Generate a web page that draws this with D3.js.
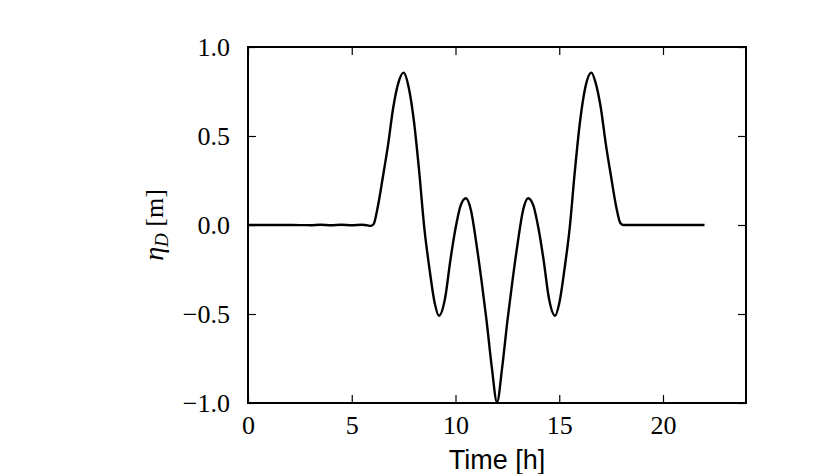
<!DOCTYPE html>
<html>
<head>
<meta charset="utf-8">
<script src="https://cdn.jsdelivr.net/npm/d3@7/dist/d3.min.js"></script>
<style>
  body { margin: 0; background: #fff; }
  svg { display: block; }
</style>
</head>
<body>
<div id="chart"></div>
<script>
// ---- data ----
const timeHours = [0, 1, 2, 3, 3.5, 4, 4.5, 5, 5.5, 5.75, 5.9, 6.05,
  6.25, 6.5, 6.75, 7.0, 7.25, 7.5, 7.75, 8.0, 8.25, 8.5, 8.75, 9.0, 9.2, 9.5, 9.75,
  10.0, 10.25, 10.5, 10.75, 11.0, 11.25, 11.5, 11.75, 12.0,
  12.25, 12.5, 12.75, 13.0, 13.25, 13.5, 13.75, 14.0, 14.25, 14.5, 14.8, 15.0, 15.25,
  15.5, 15.75, 16.0, 16.25, 16.55, 16.75, 17.0, 17.25, 17.5, 17.75, 17.95, 18.1,
  19, 20, 21, 22];
const etaD = [0, 0, 0, -0.001, 0.001, -0.001, 0.001, -0.001, 0.001, -0.002, -0.005, 0.004,
  0.10, 0.27, 0.45, 0.66, 0.80, 0.856, 0.77, 0.58, 0.30, -0.02, -0.25, -0.44, -0.51, -0.41, -0.20,
  -0.02, 0.11, 0.15, 0.08, -0.10, -0.31, -0.54, -0.80, -0.995,
  -0.80, -0.54, -0.31, -0.10, 0.08, 0.15, 0.11, -0.02, -0.20, -0.41, -0.51, -0.44, -0.25,
  -0.02, 0.30, 0.58, 0.77, 0.856, 0.80, 0.66, 0.45, 0.27, 0.10, 0.01, 0,
  0, 0, 0, 0];
const xTicks = [0, 5, 10, 15, 20];
const yTicks = [-1.0, -0.5, 0.0, 0.5, 1.0];
const xLabel = "Time [h]";

// ---- layout ----
const W = 830, H = 474;
const m = { left: 248, right: 84, top: 47, bottom: 71 };
const iw = W - m.left - m.right, ih = H - m.top - m.bottom;

const svg = d3.select("#chart").append("svg").attr("width", W).attr("height", H);
const g = svg.append("g").attr("transform", `translate(${m.left},${m.top})`);

const x = d3.scaleLinear().domain([0, 24]).range([0, iw]);
const y = d3.scaleLinear().domain([-1, 1]).range([ih, 0]);

const serif = "'Liberation Serif', 'DejaVu Serif', serif";
const fmtY = d => (d < 0 ? "\u2212" : "") + Math.abs(d).toFixed(1);
const tickLen = 8;

// axes (inward ticks)
const axB = g.append("g").attr("transform", `translate(0,${ih})`)
  .call(d3.axisBottom(x).tickValues(xTicks).tickSize(-tickLen).tickPadding(tickLen + 7).tickFormat(d3.format("d")));
const axT = g.append("g")
  .call(d3.axisTop(x).tickValues(xTicks).tickSize(-tickLen).tickFormat(""));
const axL = g.append("g")
  .call(d3.axisLeft(y).tickValues(yTicks).tickSize(-tickLen).tickPadding(tickLen + 10).tickFormat(fmtY));
const axR = g.append("g").attr("transform", `translate(${iw},0)`)
  .call(d3.axisRight(y).tickValues(yTicks).tickSize(-tickLen).tickFormat(""));

[axB, axT, axL, axR].forEach(a => {
  a.select(".domain").remove();
  a.selectAll(".tick line").attr("stroke", "#000").attr("stroke-width", 1.2);
  a.selectAll(".tick text").attr("font-family", serif).attr("font-size", 26).attr("fill", "#000");
});
axB.selectAll(".tick text").attr("dy", "0.6em");

// line
const line = d3.line().x((d, i) => x(timeHours[i])).y(d => y(d)).curve(d3.curveMonotoneX);
g.append("path").datum(etaD)
  .attr("fill", "none").attr("stroke", "#000").attr("stroke-width", 2.4)
  .attr("stroke-linejoin", "round")
  .attr("d", line);

// frame
g.append("rect").attr("x", 0).attr("y", 0).attr("width", iw).attr("height", ih)
  .attr("fill", "none").attr("stroke", "#000").attr("stroke-width", 2);

// x label
svg.append("text").attr("x", m.left + iw / 2).attr("y", 469)
  .attr("text-anchor", "middle")
  .attr("font-family", "'Liberation Sans', Arial, sans-serif").attr("font-size", 27)
  .text(xLabel);

// y label
const yl = svg.append("text").attr("transform", `translate(163,${m.top + ih / 2}) rotate(-90)`)
  .attr("text-anchor", "middle").attr("font-family", serif).attr("font-size", 26);
yl.append("tspan").attr("font-style", "italic").attr("font-size", 28).text("η");
yl.append("tspan").attr("font-style", "italic").attr("font-size", 19).attr("dy", 5).text("D");
yl.append("tspan").attr("dy", -5).text(" [m]");
</script>
</body>
</html>
